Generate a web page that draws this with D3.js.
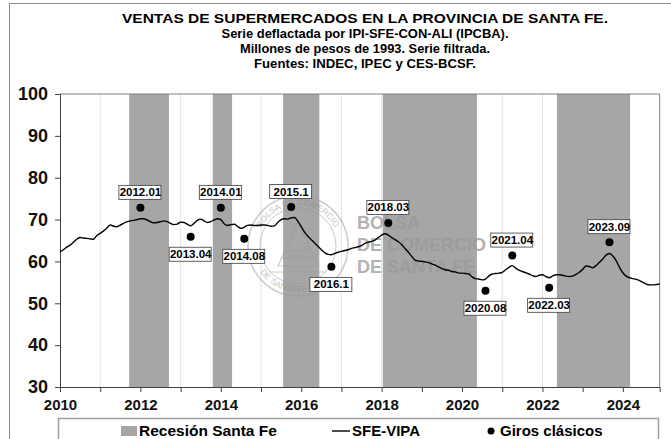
<html>
  <head>
    <meta charset="utf-8">
    <title>Ventas de supermercados - Santa Fe</title>
    <style>
    body{
      margin: 0;
      background-color: white;
    }
    text{
      font-family: "Liberation Sans", Arial, sans-serif;
    }
    </style>
    <script src="https://d3js.org/d3.v7.min.js"></script>
  </head>
  <body>
    <div id="container"></div>
    <script>
    //size of the svg
    const width = 671,
          height = 439;

    //title lines
    var titleLines = ["VENTAS DE SUPERMERCADOS  EN LA PROVINCIA DE SANTA FE.",
                      "Serie deflactada por IPI-SFE-CON-ALI (IPCBA).",
                      "Millones de pesos de 1993. Serie filtrada.",
                      "Fuentes: INDEC, IPEC y CES-BCSF."];

    //monthly series SFE-VIPA, jan 2010 to dec 2024 (one row per year)
    var vipa = [
      62.3, 62.8, 63.4, 63.9, 64.6, 65.3, 65.7, 65.6, 65.5, 65.4, 65.3, 66.2,
      66.7, 67.3, 68.0, 68.7, 68.4, 68.3, 68.7, 69.1, 69.5, 69.7, 69.8, 70.0,
      70.2, 70.2, 69.9, 69.5, 69.2, 69.3, 69.5, 69.7, 69.5, 69.1, 68.8, 68.9,
      69.4, 69.3, 68.9, 68.5, 69.1, 69.8, 70.1, 69.7, 69.3, 69.5, 69.9, 70.2,
      70.0, 69.0, 68.6, 68.8, 68.9, 68.4, 67.9, 68.2, 68.6, 68.7, 68.6, 68.6,
      68.7, 68.7, 68.6, 68.4, 68.5, 69.3, 70.0, 70.2, 70.1, 70.4, 70.5, 69.6,
      68.3, 67.0, 66.0, 65.2, 64.4, 63.6, 62.8, 62.1, 61.7, 61.6, 61.9, 62.2,
      62.4, 62.6, 62.8, 63.1, 63.3, 63.5, 63.8, 64.3, 64.6, 64.8, 65.1, 65.7,
      66.3, 66.6, 66.3, 65.7, 65.2, 64.7, 64.0, 63.1, 62.2, 61.2, 60.3, 60.1,
      60.0, 59.9, 59.7, 59.4, 59.1, 58.7, 58.3, 58.0, 57.9, 57.6, 57.5, 57.2,
      57.2, 57.1, 57.0, 56.3, 55.9, 55.8, 55.6, 55.8, 56.5, 57.0, 57.1, 57.2,
      57.4, 58.0, 58.6, 59.0, 58.4, 57.9, 57.6, 57.3, 57.0, 56.6, 56.4, 56.7,
      56.8, 56.4, 56.1, 56.5, 56.8, 56.8, 56.7, 56.5, 56.4, 56.5, 56.9, 57.4,
      58.1, 58.9, 58.8, 58.5, 59.0, 59.8, 60.6, 61.5, 61.9, 61.3, 60.2, 58.6,
      57.3, 56.5, 56.1, 55.9, 55.7, 55.4, 55.0, 54.6, 54.4, 54.4, 54.5, 54.6
    ];
    var firstYear = 2010;

    //recessions in Santa Fe (decimal years)
    var recStart = [2011.72, 2013.80, 2015.55, 2018.03, 2022.36];
    var recEnd   = [2012.71, 2014.28, 2016.45, 2020.37, 2024.18];

    //classic turning points
    var giroLabels = ["2012.01", "2013.04", "2014.01", "2014.08", "2015.1", "2016.1",
                      "2018.03", "2020.08", "2021.04", "2022.03", "2023.09"];
    var giroYear   = [2012, 2013, 2014, 2014, 2015, 2016, 2018, 2020, 2021, 2022, 2023];
    var giroMonth  = [1, 4, 1, 8, 10, 10, 3, 8, 4, 3, 9];
    var giroValue  = [72.8, 65.9, 72.8, 65.4, 73.0, 58.7, 69.2, 53.0, 61.4, 53.7, 64.6];

    //axis ticks
    var yTicks = [30, 40, 50, 60, 70, 80, 90, 100];
    var xTicks = [2010, 2011, 2012, 2013, 2014, 2015, 2016, 2017, 2018, 2019, 2020, 2021, 2022, 2023, 2024];

    //month -> decimal year
    var series = vipa.map(function(v, i){
      return {t: firstYear + i/12, v: v};
    });

    var x = d3.scaleLinear()
      .domain([firstYear, firstYear + (vipa.length - 1)/12])
      .range([60, 659.7]);
    var y = d3.scaleLinear()
      .domain([30, 100])
      .range([387, 94]);

    var svg = d3.select("#container")
      .append("svg")
      .attr("width", width)
      .attr("height", height)
      .style("display", "block");

    //outer frame
    svg.append("rect")
      .attr("x", 9.5).attr("y", 3.5)
      .attr("width", 700).attr("height", 500)
      .attr("fill", "white")
      .attr("stroke", "#8c8c8c");

    //title
    var tl = [23, 38, 53, 68];
    var tw = [486, 287, 250, 222];
    svg.selectAll(".title")
      .data(titleLines)
      .enter()
      .append("text")
      .attr("class", "title")
      .attr("x", 365)
      .attr("y", function(d, i){ return tl[i]; })
      .attr("text-anchor", "middle")
      .attr("textLength", function(d, i){ return tw[i]; })
      .attr("lengthAdjust", "spacingAndGlyphs")
      .style("font-family", "'Liberation Sans Narrow', 'Arial Narrow', 'Liberation Sans', sans-serif")
      .style("font-weight", "bold")
      .style("font-size", "13px")
      .text(function(d){ return d; });

    //year gridlines
    svg.append("g")
      .selectAll("line")
      .data(xTicks.slice(1))
      .enter()
      .append("line")
      .attr("x1", function(d){ return x(d); })
      .attr("x2", function(d){ return x(d); })
      .attr("y1", y(100))
      .attr("y2", y(30))
      .attr("stroke", "#e3e3e3")
      .attr("stroke-width", 1);

    //recession bands
    svg.append("g")
      .selectAll("rect")
      .data(recStart)
      .enter()
      .append("rect")
      .attr("x", function(d){ return x(d); })
      .attr("width", function(d, i){ return x(recEnd[i]) - x(d); })
      .attr("y", y(100))
      .attr("height", y(30) - y(100))
      .attr("fill", "#a6a6a6");

    //watermark seal
    var seal = svg.append("g")
      .attr("transform", "translate(298,246)")
      .attr("opacity", 0.5);
    seal.append("circle").attr("r", 50).attr("fill", "none").attr("stroke", "#9a9a9a").attr("stroke-width", 1.5);
    seal.append("circle").attr("r", 38).attr("fill", "none").attr("stroke", "#9a9a9a").attr("stroke-width", 1);
    seal.append("path").attr("id", "sealTop")
      .attr("d", "M -41 0 A 41 41 0 0 1 41 0").attr("fill", "none");
    seal.append("path").attr("id", "sealBot")
      .attr("d", "M -46 0 A 46 46 0 0 0 46 0").attr("fill", "none");
    seal.append("text")
      .style("font-size", "8.5px").attr("fill", "#8a8a8a")
      .append("textPath").attr("href", "#sealTop").attr("startOffset", "50%")
      .attr("text-anchor", "middle").text("BOLSA DE COMERCIO");
    seal.append("text")
      .style("font-size", "8.5px").attr("fill", "#8a8a8a")
      .append("textPath").attr("href", "#sealBot").attr("startOffset", "38%")
      .attr("text-anchor", "middle").text("DE SANTA FE");
    seal.append("path")
      .attr("d", "M -20 20 L 0 -24 L 20 20 Z M -28 26 L 28 26 M -13 5 L 13 5 M -17 12 L 17 12")
      .attr("fill", "none").attr("stroke", "#9a9a9a").attr("stroke-width", 1.2);

    svg.selectAll(".wm")
      .data(["BOLSA", "DE COMERCIO", "DE SANTA FE"])
      .enter()
      .append("text")
      .attr("class", "wm")
      .attr("x", 357)
      .attr("y", function(d, i){ return 229 + i*22; })
      .style("font-size", "18px")
      .style("font-weight", "bold")
      .attr("fill", "#999999")
      .attr("opacity", 0.75)
      .text(function(d){ return d; });

    //plot border top and right
    svg.append("path")
      .attr("d", "M60," + y(100) + " H" + x.range()[1] + " V" + y(30))
      .attr("fill", "none")
      .attr("stroke", "#808080");

    //axes
    var yAxis = svg.append("g")
      .attr("transform", "translate(60,0)")
      .call(d3.axisLeft(y).tickValues(yTicks).tickSize(5).tickPadding(7));
    yAxis.selectAll("text")
      .style("font-size", "18px")
      .style("font-weight", "bold")
      .attr("fill", "#111");

    var xAxis = svg.append("g")
      .attr("transform", "translate(0," + y(30) + ")")
      .call(d3.axisBottom(x).tickValues(xTicks).tickSize(5).tickPadding(7)
        .tickFormat(function(d){ return d % 2 == 0 ? d : ""; }));
    xAxis.selectAll("text")
      .style("font-size", "15px")
      .style("font-weight", "bold")
      .attr("fill", "#111");
    svg.selectAll(".domain, .tick line").attr("stroke", "#404040");

    //series line
    var line = d3.line()
      .x(function(d){ return x(d.t); })
      .y(function(d){ return y(d.v); })
      .curve(d3.curveMonotoneX);
    svg.append("path")
      .datum(series)
      .attr("d", line)
      .attr("fill", "none")
      .attr("stroke", "black")
      .attr("stroke-width", 1.4);

    //turning points: label above if the point is over the line
    function lineValueAt(t){
      var i = Math.round((t - firstYear)*12);
      return vipa[i];
    }
    var giros = giroLabels.map(function(lbl, i){
      var t = giroYear[i] + (giroMonth[i] - 1)/12;
      return {label: lbl, t: t, v: giroValue[i], up: giroValue[i] > lineValueAt(t)};
    });

    svg.append("g")
      .selectAll("circle")
      .data(giros)
      .enter()
      .append("circle")
      .attr("cx", function(d){ return x(d.t); })
      .attr("cy", function(d){ return y(d.v); })
      .attr("r", 4)
      .attr("fill", "black");

    var boxW = 42, boxH = 14;
    var lbls = svg.append("g")
      .selectAll("g")
      .data(giros)
      .enter()
      .append("g")
      .attr("transform", function(d){
        var by = d.up ? y(d.v) - 9 - boxH : y(d.v) + 10;
        return "translate(" + x(d.t) + "," + by + ")";
      });
    lbls.append("rect")
      .attr("x", -boxW/2 - 0.5)
      .attr("y", 0.5)
      .attr("width", boxW)
      .attr("height", boxH)
      .attr("fill", "white")
      .attr("stroke", "#3a3a3a")
      .attr("stroke-width", 0.8);
    lbls.append("text")
      .attr("x", 0)
      .attr("y", 11.5)
      .attr("text-anchor", "middle")
      .style("font-size", "11.5px")
      .style("font-weight", "bold")
      .text(function(d){ return d.label; });

    //legend
    var lg = svg.append("g");
    lg.append("rect")
      .attr("x", 58.5).attr("y", 418.5)
      .attr("width", 600).attr("height", 40)
      .attr("fill", "white")
      .attr("stroke", "#a0a0a0")
      .attr("stroke-width", 1.5);
    lg.append("rect")
      .attr("x", 121).attr("y", 426)
      .attr("width", 16).attr("height", 10)
      .attr("fill", "#a6a6a6");
    lg.append("text").attr("x", 139).attr("y", 436)
      .style("font-size", "15.5px").style("font-weight", "bold")
      .text("Recesión Santa Fe");
    lg.append("line")
      .attr("x1", 332).attr("x2", 350).attr("y1", 431).attr("y2", 431)
      .attr("stroke", "black").attr("stroke-width", 1.4);
    lg.append("text").attr("x", 352).attr("y", 436)
      .style("font-size", "15px").style("font-weight", "bold")
      .text("SFE-VIPA");
    lg.append("circle")
      .attr("cx", 491).attr("cy", 431).attr("r", 3.5)
      .attr("fill", "black");
    lg.append("text").attr("x", 500).attr("y", 436)
      .style("font-size", "15px").style("font-weight", "bold")
      .text("Giros clásicos");
    </script>
  </body>
</html>
